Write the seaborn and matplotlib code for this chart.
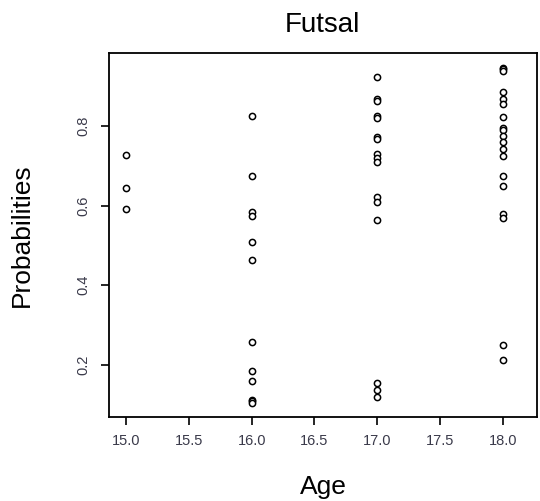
import numpy as np
import pandas as pd
import matplotlib
matplotlib.use('Agg')
import matplotlib.pyplot as plt
import seaborn as sns

# Values
age_15 = [0.727, 0.643, 0.592]
age_16 = [0.826, 0.674, 0.585, 0.575, 0.509, 0.464, 0.257, 0.185, 0.160,
          0.112, 0.108, 0.104]
age_17 = [0.923, 0.868, 0.862, 0.826, 0.820, 0.772, 0.768, 0.730, 0.720,
          0.710, 0.622, 0.610, 0.563, 0.155, 0.136, 0.120]
age_18 = [0.946, 0.942, 0.938, 0.886, 0.868, 0.855, 0.823, 0.795, 0.790,
          0.775, 0.760, 0.742, 0.724, 0.674, 0.650, 0.580, 0.568, 0.250,
          0.213]

ages = [15.0] * len(age_15) + [16.0] * len(age_16) + [17.0] * len(age_17) + [18.0] * len(age_18)
probs = age_15 + age_16 + age_17 + age_18
df = pd.DataFrame({'Age': ages, 'Probabilities': probs})

sns.set_style('ticks')
plt.rcParams['font.family'] = ['Liberation Sans', 'DejaVu Sans']
plt.rcParams['text.color'] = 'black'
plt.rcParams['axes.labelcolor'] = 'black'

fig = plt.figure(figsize=(5.4, 5.01), dpi=100)
ax = fig.add_axes([0.202, 0.168, 0.792, 0.726])

sns.scatterplot(data=df, x='Age', y='Probabilities', ax=ax, marker='o',
                s=20, facecolor='white', edgecolor='black', linewidth=1.1)

ax.set_xlim(14.865, 18.27)
ax.set_ylim(0.0694, 0.983)
ax.set_xticks([15.0, 15.5, 16.0, 16.5, 17.0, 17.5, 18.0])
ax.set_xticklabels(['15.0', '15.5', '16.0', '16.5', '17.0', '17.5', '18.0'])
ax.set_yticks([0.2, 0.4, 0.6, 0.8])
ax.set_yticklabels(['0.2', '0.4', '0.6', '0.8'], rotation=90, va='center')

for s in ax.spines.values():
    s.set_visible(True)
    s.set_linewidth(1.3)
    s.set_color('black')

ax.tick_params(axis='both', direction='out', length=5.5, width=1.2,
               labelsize=10.5, labelcolor='#3a3a4a', color='black')
ax.tick_params(axis='x', pad=7)
ax.tick_params(axis='y', pad=8)

ax.set_xlabel('Age', fontsize=19)
ax.set_ylabel('Probabilities', fontsize=19)
ax.xaxis.set_label_coords(0.5, -0.192)
ax.xaxis.label.set_va('center')
ax.yaxis.set_label_coords(-0.203, 0.5)
ax.yaxis.label.set_va('center')
ax.set_title('Futsal', fontsize=20, pad=15)

plt.savefig('out.png', dpi=100)
